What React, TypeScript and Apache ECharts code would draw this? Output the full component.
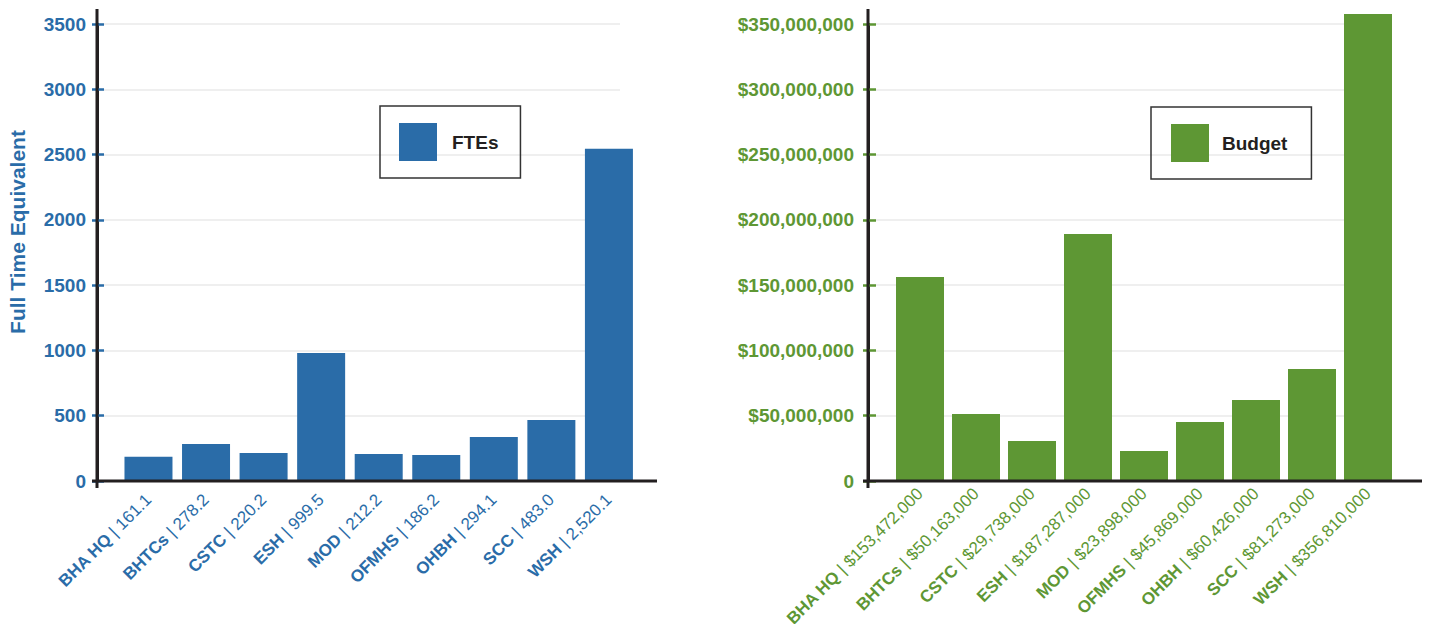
import React, { useEffect, useRef } from "react";
import * as echarts from "echarts";

const categories = ["BHA HQ", "BHTCs", "CSTC", "ESH", "MOD", "OFMHS", "OHBH", "SCC", "WSH"];
const fteLabels = ["161.1", "278.2", "220.2", "999.5", "212.2", "186.2", "294.1", "483.0", "2,520.1"];
const budgetLabels = [
  "$153,472,000", "$50,163,000", "$29,738,000", "$187,287,000", "$23,898,000",
  "$45,869,000", "$60,426,000", "$81,273,000", "$356,810,000",
];
const fteValues = [185, 283, 214, 980, 207, 199, 337, 467, 2545];
const budgetValues = [156200000, 51300000, 30600000, 189200000, 23000000, 45200000, 62000000, 85800000, 357700000];
const fteAxis = { min: 0, max: 3500, interval: 500 };
const budgetAxis = { min: 0, max: 350000000, interval: 50000000 };

const BLUE = "#2a6ca8";
const GREEN = "#5e9734";
const DARK = "#231f20";
const GRIDLINE = "#efefef";
const FONT = "'Liberation Sans', Arial, sans-serif";

// layout constants
const G1 = { left: 119.7, top: 24, width: 518, height: 457 };
const G2 = { left: 892, top: 24, width: 504, height: 457 };
const AX1 = 97;
const AX2 = 868;
const GL1 = { left: AX1, top: 24, width: 523, height: 457 };
const GL2 = { left: AX2, top: 24, width: 524, height: 457 };

export default function App() {
  const ref = useRef<HTMLDivElement>(null);
  useEffect(() => {
    if (!ref.current) return;
    const chart = echarts.init(ref.current, null, { renderer: "svg" });
    const baseY = G1.top + G1.height;
    const richFor = (color: string) => ({
      b: { fontFamily: FONT, fontWeight: "bold", fontSize: 17, color },
      n: { fontFamily: FONT, fontWeight: "normal", fontSize: 17, color },
    });
    const fmtMoney = (v: number) => (v === 0 ? "0" : "$" + v.toLocaleString("en-US"));
    const hiddenX = (gridIndex: number) => ({
      type: "value",
      gridIndex,
      show: false,
      min: 0,
      max: 1,
    });
    const gridAxis = (gridIndex: number, range: any, color: string, tickLen: number) => ({
      type: "value",
      gridIndex,
      ...range,
      axisLine: { show: false },
      axisLabel: { show: false },
      axisTick: { show: true, inside: true, length: tickLen, lineStyle: { color, width: 2.5 } },
      splitLine: { show: true, lineStyle: { color: GRIDLINE, width: 2 } },
    });
    chart.setOption({
      animation: false,
      backgroundColor: "#ffffff",
      grid: [
        { ...G1, containLabel: false, outerBoundsMode: "none" },
        { ...G2, containLabel: false, outerBoundsMode: "none" },
        { ...GL1, containLabel: false, outerBoundsMode: "none" },
        { ...GL2, containLabel: false, outerBoundsMode: "none" },
      ],
      legend: [
        {
          data: ["FTEs"],
          left: 380,
          top: 106,
          orient: "vertical",
          icon: "rect",
          itemWidth: 38,
          itemHeight: 38,
          padding: [17, 22, 17, 19],
          borderColor: "#333333",
          borderWidth: 1.5,
          textStyle: { fontFamily: FONT, fontWeight: "bold", fontSize: 19, color: DARK, padding: [0, 0, 0, 10] },
        },
        {
          data: ["Budget"],
          left: 1151,
          top: 107,
          orient: "vertical",
          icon: "rect",
          itemWidth: 38,
          itemHeight: 38,
          padding: [17, 24, 17, 20],
          borderColor: "#333333",
          borderWidth: 1.5,
          textStyle: { fontFamily: FONT, fontWeight: "bold", fontSize: 19, color: DARK, padding: [0, 0, 0, 8] },
        },
      ],
      xAxis: [
        {
          type: "category",
          gridIndex: 0,
          data: categories,
          axisLine: { show: false },
          axisTick: { show: false },
          axisLabel: {
            interval: 0,
            rotate: 45,
            margin: 16,
            formatter: (v: string, i: number) => `{b|${v}}{n| | ${fteLabels[i]}}`,
            rich: richFor(BLUE),
          },
        },
        {
          type: "category",
          gridIndex: 1,
          data: categories,
          axisLine: { show: false },
          axisTick: { show: false },
          axisLabel: {
            interval: 0,
            rotate: 45,
            margin: 10,
            formatter: (v: string, i: number) => `{b|${v}}{n| | ${budgetLabels[i]}}`,
            rich: richFor(GREEN),
          },
        },
        hiddenX(2),
        hiddenX(3),
      ],
      yAxis: [
        {
          type: "value",
          gridIndex: 0,
          ...fteAxis,
          offset: G1.left - AX1,
          axisLine: { show: true, lineStyle: { color: DARK, width: 3 } },
          axisTick: { show: true, length: 5, lineStyle: { color: BLUE, width: 2.5 } },
          axisLabel: {
            margin: 11,
            fontFamily: FONT,
            fontWeight: "bold",
            fontSize: 19,
            color: BLUE,
            formatter: (v: number) => String(v),
          },
          splitLine: { show: false },
        },
        {
          type: "value",
          gridIndex: 1,
          ...budgetAxis,
          offset: G2.left - AX2,
          axisLine: { show: true, lineStyle: { color: DARK, width: 3 } },
          axisTick: { show: true, length: 5, lineStyle: { color: GREEN, width: 2.5 } },
          axisLabel: {
            margin: 14,
            fontFamily: FONT,
            fontWeight: "bold",
            fontSize: 19,
            color: GREEN,
            formatter: fmtMoney,
          },
          splitLine: { show: false },
        },
        gridAxis(2, fteAxis, BLUE, 7),
        gridAxis(3, budgetAxis, GREEN, 8),
      ],
      series: [
        {
          name: "FTEs",
          type: "bar",
          xAxisIndex: 0,
          yAxisIndex: 0,
          data: fteValues,
          barWidth: 48,
          itemStyle: { color: BLUE },
        },
        {
          name: "Budget",
          type: "bar",
          xAxisIndex: 1,
          yAxisIndex: 1,
          data: budgetValues,
          barWidth: 48,
          clip: false,
          itemStyle: { color: GREEN },
        },
      ],
      graphic: [
        {
          type: "line",
          shape: { x1: AX1 - 5, y1: baseY, x2: 657, y2: baseY },
          style: { stroke: DARK, lineWidth: 3 },
          z: 10,
        },
        {
          type: "line",
          shape: { x1: AX1, y1: 9, x2: AX1, y2: baseY + 7 },
          style: { stroke: DARK, lineWidth: 3 },
          z: 10,
        },
        {
          type: "line",
          shape: { x1: AX2 - 5, y1: baseY, x2: 1422, y2: baseY },
          style: { stroke: DARK, lineWidth: 3 },
          z: 10,
        },
        {
          type: "line",
          shape: { x1: AX2, y1: 9, x2: AX2, y2: baseY + 7 },
          style: { stroke: DARK, lineWidth: 3 },
          z: 10,
        },
        {
          type: "text",
          x: 17,
          y: 232,
          rotation: Math.PI / 2,
          style: {
            text: "Full Time Equivalent",
            fill: BLUE,
            font: `bold 21px ${FONT}`,
            textAlign: "center",
            textVerticalAlign: "middle",
          },
        },
      ],
    });
    return () => chart.dispose();
  }, []);
  return (
    <div
      ref={ref}
      style={{ position: "absolute", left: 0, top: 0, width: 1429, height: 624 }}
    />
  );
}
